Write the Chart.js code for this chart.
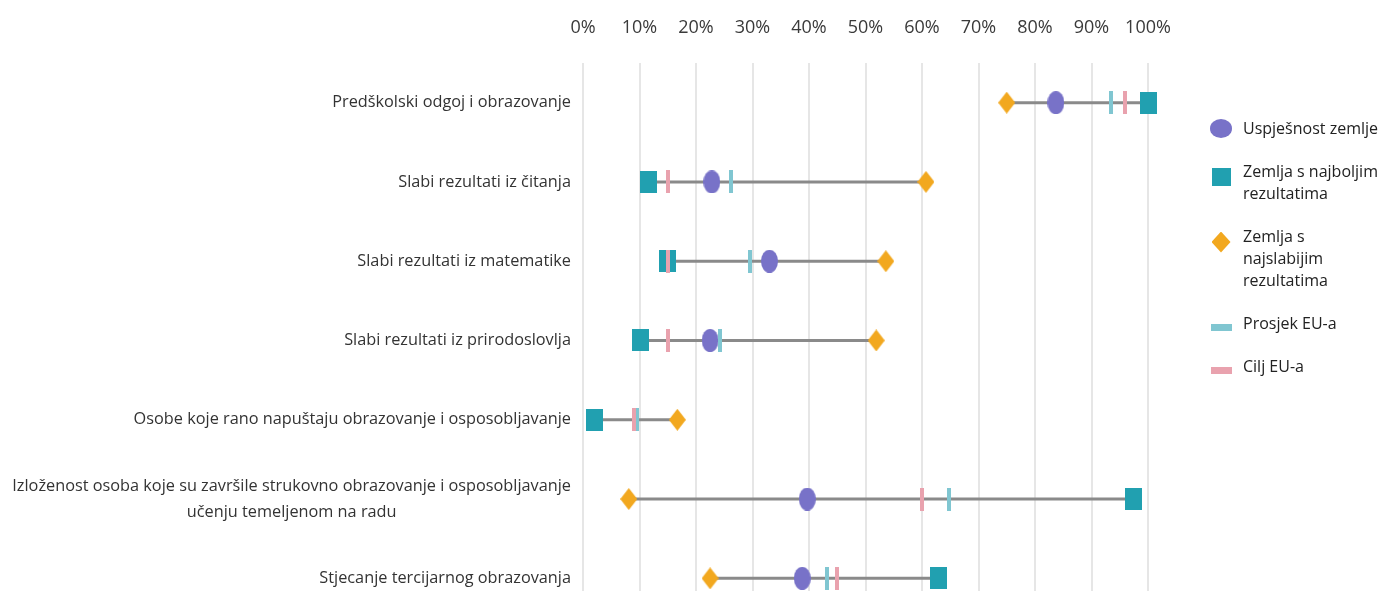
<!DOCTYPE html>
<html>
<head>
<meta charset="utf-8">
<script src="https://cdn.jsdelivr.net/npm/chart.js@4.4.0/dist/chart.umd.min.js"></script>
<style>
  html, body { margin: 0; padding: 0; background: #fff; }
  #okvir { position: relative; width: 1384px; height: 591px; }
  #legenda { position: absolute; left: 1210px; top: 117px; font-family: "Open Sans", sans-serif; font-size: 16px; color: #222; }
  .stavka { display: flex; align-items: flex-start; margin-bottom: 21px; }
  .znak { width: 22px; display: flex; justify-content: center; flex: none; }
  .tekst { margin-left: 11px; line-height: 22px; white-space: pre-line; }
</style>
</head>
<body>
<div id="okvir">
  <canvas id="grafikon" width="1384" height="591"></canvas>
  <div id="legenda"></div>
</div>
<script>
// Podaci (%)
const kategorije = [
  'Predškolski odgoj i obrazovanje',
  'Slabi rezultati iz čitanja',
  'Slabi rezultati iz matematike',
  'Slabi rezultati iz prirodoslovlja',
  'Osobe koje rano napuštaju obrazovanje i osposobljavanje',
  ['Izloženost osoba koje su završile strukovno obrazovanje i osposobljavanje', 'učenju temeljenom na radu'],
  'Stjecanje tercijarnog obrazovanja'
];
const uspjesnost = [83.7, 22.8, 33.0, 22.5, null, 39.7, 38.8];
const najbolji = [100, 11.6, 15.0, 10.2, 2.0, 97.5, 62.9];
const najslabiji = [75.0, 60.7, 53.6, 51.9, 16.7, 8.1, 22.5];
const prosjekEU = [93.4, 26.2, 29.5, 24.2, 9.5, 64.8, 43.1];
const ciljEU = [96, 15, 15, 15, 9, 60, 45];
const oznakeX = ['0%', '10%', '20%', '30%', '40%', '50%', '60%', '70%', '80%', '90%', '100%'];

const boje = {
  uspjesnost: '#7872c8',
  najbolji: '#21a0b0',
  najslabiji: '#f2a81f',
  prosjek: '#80c6d1',
  cilj: '#e9a2ae',
  crta: '#8a8a8a'
};

// Crta oznaku točke na malom canvasu
function oznaka(oblik, boja, sirina, visina) {
  const c = document.createElement('canvas');
  c.width = sirina;
  c.height = visina;
  const ctx = c.getContext('2d');
  ctx.fillStyle = boja;
  ctx.beginPath();
  if (oblik === 'elipsa') {
    ctx.ellipse(sirina / 2, visina / 2, sirina / 2, visina / 2, 0, 0, Math.PI * 2);
  } else if (oblik === 'romb') {
    ctx.moveTo(sirina / 2, 0);
    ctx.lineTo(sirina, visina / 2);
    ctx.lineTo(sirina / 2, visina);
    ctx.lineTo(0, visina / 2);
    ctx.closePath();
  } else {
    ctx.rect(0, 0, sirina, visina);
  }
  ctx.fill();
  return c;
}

function tocke(niz) {
  return niz.map((v, i) => ({ x: v, y: i }));
}

// Siva crta od najslabije do najbolje zemlje
const rasponi = [];
kategorije.forEach((k, i) => {
  rasponi.push({ x: Math.min(najbolji[i], najslabiji[i]), y: i });
  rasponi.push({ x: Math.max(najbolji[i], najslabiji[i]), y: i });
  rasponi.push({ x: null, y: null });
});

// Oznake osi Y (višeredne oznake centrirane unutar bloka)
const oznakeOsiY = {
  id: 'oznakeOsiY',
  afterDraw(chart) {
    const { ctx, chartArea } = chart;
    const y = chart.scales.y;
    ctx.save();
    ctx.font = '16.3px "Open Sans"';
    ctx.fillStyle = '#333';
    ctx.textBaseline = 'middle';
    ctx.textAlign = 'center';
    kategorije.forEach((k, i) => {
      const redovi = Array.isArray(k) ? k : [k];
      const najsira = Math.max(...redovi.map(r => ctx.measureText(r).width));
      const desno = chartArea.left - 12;
      const sredina = y.getPixelForValue(i);
      redovi.forEach((r, j) => {
        ctx.fillText(r, desno - najsira / 2, sredina + (j - (redovi.length - 1) / 2) * 26);
      });
    });
    ctx.restore();
  }
};

const skupovi = [
  { label: 'Cilj EU-a', data: tocke(ciljEU), pointStyle: oznaka('pravokutnik', boje.cilj, 4, 23), order: 1, boja: boje.cilj, legenda: 'traka' },
  { label: 'Prosjek EU-a', data: tocke(prosjekEU), pointStyle: oznaka('pravokutnik', boje.prosjek, 4, 23), order: 2, boja: boje.prosjek, legenda: 'traka' },
  { label: 'Uspješnost zemlje', data: tocke(uspjesnost), pointStyle: oznaka('elipsa', boje.uspjesnost, 17, 23), order: 3, boja: boje.uspjesnost, legenda: 'elipsa' },
  { label: 'Zemlja s najboljim\nrezultatima', data: tocke(najbolji), pointStyle: oznaka('pravokutnik', boje.najbolji, 17, 22), order: 4, boja: boje.najbolji, legenda: 'kvadrat' },
  { label: 'Zemlja s\nnajslabijim\nrezultatima', data: tocke(najslabiji), pointStyle: oznaka('romb', boje.najslabiji, 17, 22), order: 5, boja: boje.najslabiji, legenda: 'romb' }
].map(s => Object.assign(s, { type: 'scatter', pointRadius: 10, clip: false, showLine: false }));

skupovi.push({
  type: 'line',
  label: 'raspon',
  data: rasponi,
  borderColor: boje.crta,
  borderWidth: 3,
  pointRadius: 0,
  spanGaps: false,
  clip: false,
  order: 6
});

new Chart(document.getElementById('grafikon'), {
  data: { datasets: skupovi },
  plugins: [oznakeOsiY],
  options: {
    responsive: false,
    animation: false,
    events: [],
    layout: { autoPadding: false, padding: { left: 0, right: 236, top: 0, bottom: 0 } },
    plugins: {
      legend: { display: false },
      tooltip: { enabled: false }
    },
    scales: {
      x: {
        type: 'linear',
        position: 'top',
        min: 0,
        max: 100,
        afterFit: s => { s.height = 63; },
        afterBuildTicks: s => { s.ticks = oznakeX.map((t, i) => ({ value: i * 10 })); },
        ticks: {
          callback: (v, i) => oznakeX[i],
          color: '#3a3a3a',
          padding: 24,
          font: { family: 'Open Sans', size: 18 }
        },
        grid: { color: '#e6e6e6', lineWidth: 2, drawTicks: false },
        border: { display: false }
      },
      y: {
        type: 'linear',
        reverse: true,
        min: -0.5,
        max: 6.16,
        afterFit: s => { s.width = 583; },
        ticks: { display: false },
        grid: { display: false },
        border: { display: false }
      }
    }
  }
});

// Legenda desno
const legenda = document.getElementById('legenda');
['Uspješnost zemlje', 'Zemlja s najboljim\nrezultatima', 'Zemlja s\nnajslabijim\nrezultatima', 'Prosjek EU-a', 'Cilj EU-a'].forEach(naziv => {
  const s = skupovi.find(d => d.label === naziv);
  const stavka = document.createElement('div');
  stavka.className = 'stavka';
  const znak = document.createElement('div');
  znak.className = 'znak';
  const oblik = document.createElement('div');
  let w = 19, h = 18, sredina = 17;
  if (s.legenda === 'elipsa') { w = 22; h = 19; sredina = 11; oblik.style.borderRadius = '50%'; }
  if (s.legenda === 'romb') { w = 19; h = 21; oblik.style.clipPath = 'polygon(50% 0, 100% 50%, 50% 100%, 0 50%)'; }
  if (s.legenda === 'traka') { w = 21; h = 7; sredina = 15.5; }
  oblik.style.width = w + 'px';
  oblik.style.height = h + 'px';
  oblik.style.background = s.boja;
  oblik.style.marginTop = (sredina - h / 2) + 'px';
  znak.appendChild(oblik);
  const tekst = document.createElement('div');
  tekst.className = 'tekst';
  tekst.textContent = naziv;
  stavka.appendChild(znak);
  stavka.appendChild(tekst);
  legenda.appendChild(stavka);
});
</script>
</body>
</html>
